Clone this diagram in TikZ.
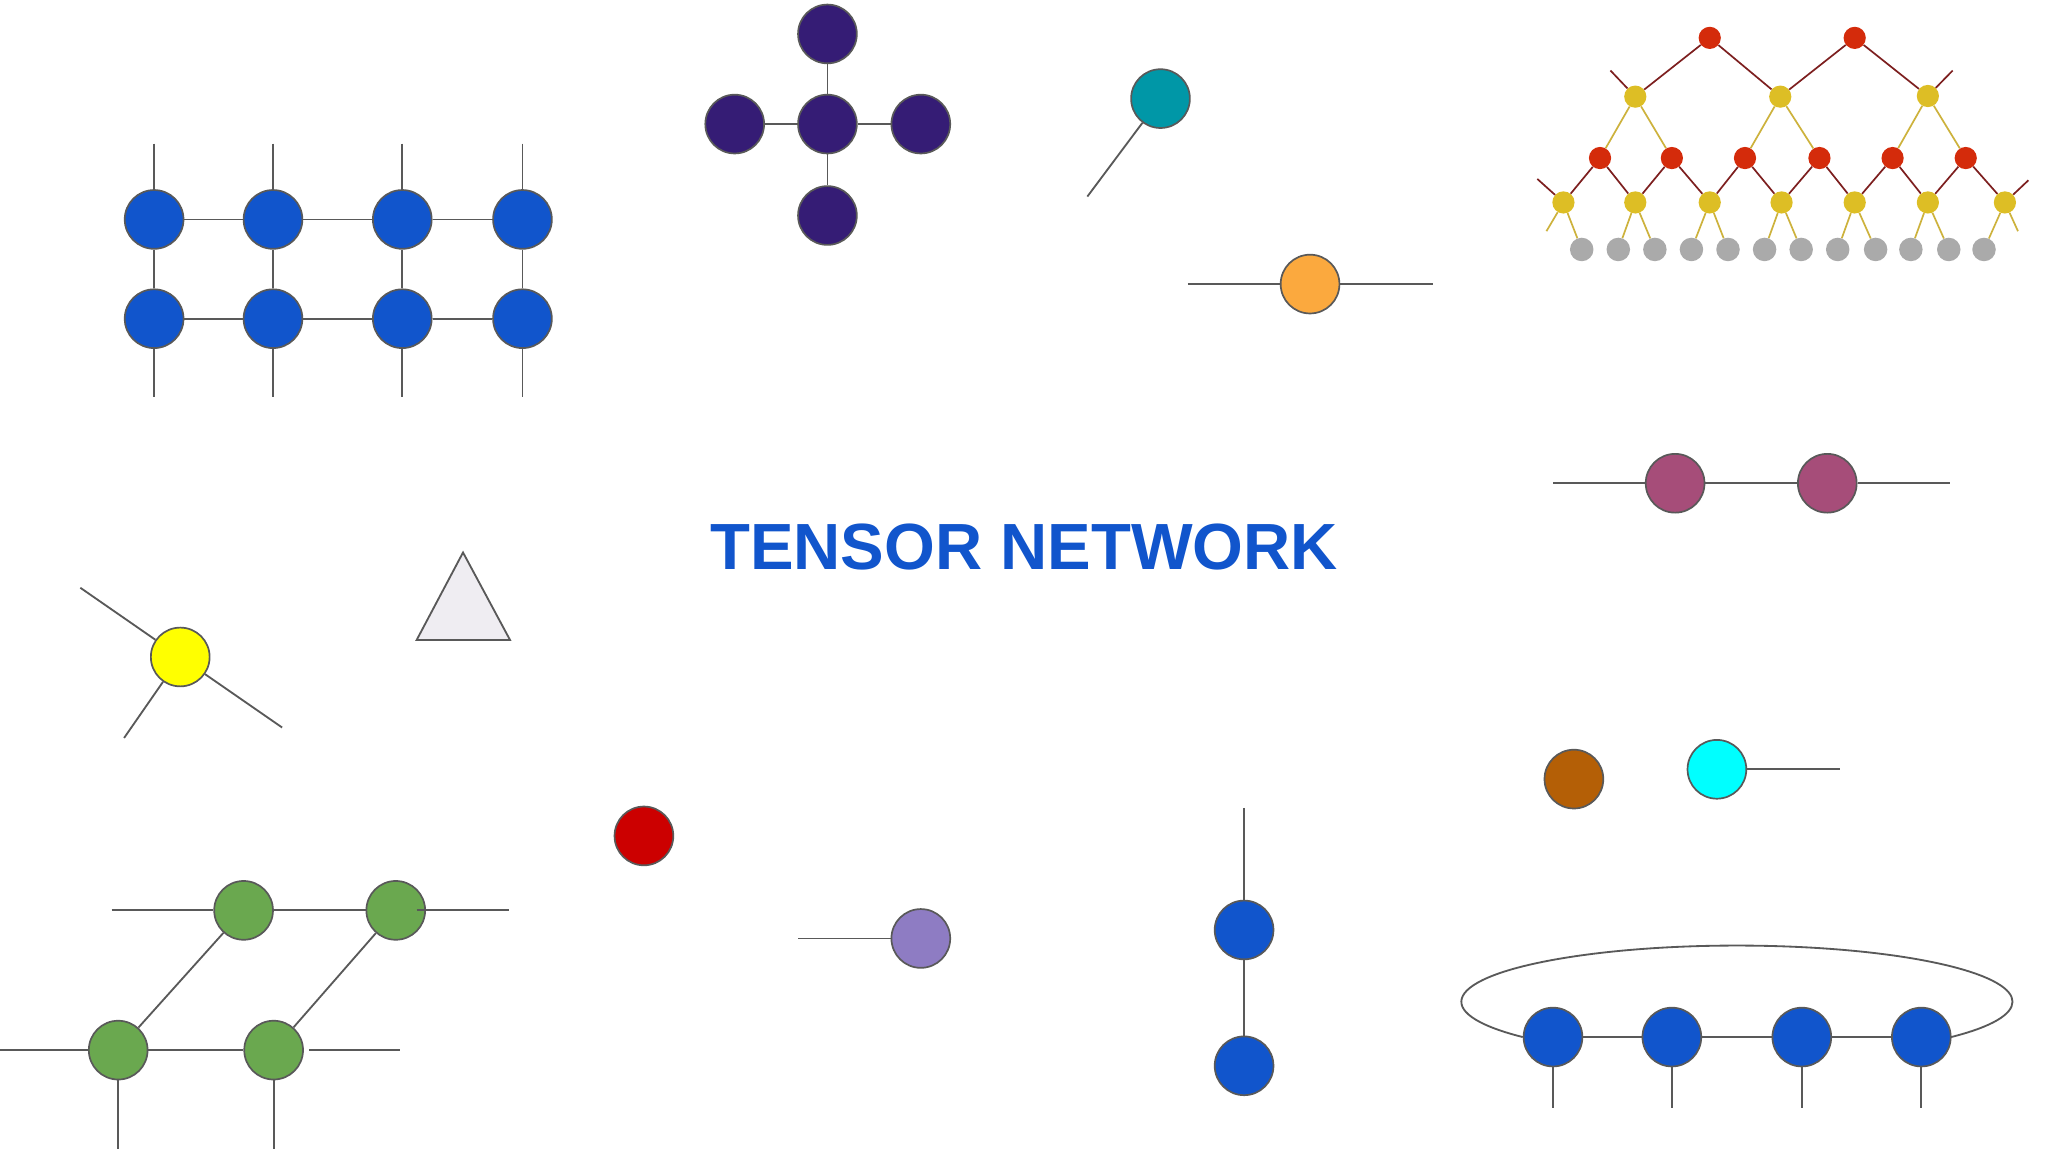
\documentclass[tikz,border=0pt]{standalone}
\usepackage{fontspec}
\newfontfamily\titlefont{Liberation Sans}
\usetikzlibrary{shapes.geometric}
\definecolor{wirec}{HTML}{595959}
\definecolor{cblue}{HTML}{1155CC}
\definecolor{cindigo}{HTML}{351C75}
\definecolor{cteal}{HTML}{0097A7}
\definecolor{corange}{HTML}{FBA93E}
\definecolor{cmagenta}{HTML}{A64D79}
\definecolor{cyellow}{HTML}{FFFF00}
\definecolor{trifill}{HTML}{EFEDF2}
\definecolor{cred}{HTML}{CC0000}
\definecolor{cgreen}{HTML}{6AA84F}
\definecolor{clavender}{HTML}{8E7CC3}
\definecolor{cbrown}{HTML}{B45F06}
\definecolor{ccyan}{HTML}{00FFFF}
\definecolor{trred}{HTML}{D42B0B}
\definecolor{tryel}{HTML}{DDBE25}
\definecolor{trgray}{HTML}{AAAAAA}
\definecolor{lnred}{HTML}{7D1F1F}
\definecolor{lnyel}{HTML}{CDB23C}
\tikzset{
  wire/.style={draw=wirec, line width=1.4pt},
  tn/.style={circle, draw=wirec, line width=1.3pt, minimum size=45pt, inner sep=0pt},
  tr/.style={circle, fill=trred, minimum size=17pt, inner sep=0pt},
  ty/.style={circle, fill=tryel, minimum size=17pt, inner sep=0pt},
  tg/.style={circle, fill=trgray, minimum size=18pt, inner sep=0pt},
  lred/.style={draw=lnred, line width=1.3pt},
  lyel/.style={draw=lnyel, line width=1.3pt},
}
\begin{document}
\begin{tikzpicture}[x=1pt,y=1pt]
\fill[white] (0,0) rectangle (1568,-882);
\useasboundingbox (0,0) rectangle (1568,-882);

% ---------- blue 4x2 grid ----------
\foreach \i/\x in {1/118,2/209,3/308,4/400} {
  \node[tn, fill=cblue] (a\i) at (\x,-168) {};
  \node[tn, fill=cblue] (b\i) at (\x,-244) {};
  \coordinate (at\i) at (\x,-110);
  \coordinate (bt\i) at (\x,-304);
  \draw[wire] (at\i) -- (a\i) -- (b\i) -- (bt\i);
}
\foreach \i/\j in {1/2,2/3,3/4} {
  \draw[wire] (a\i) -- (a\j);
  \draw[wire] (b\i) -- (b\j);
}

% ---------- indigo cross ----------
\node[tn, fill=cindigo] (cc) at (633.5,-95) {};
\node[tn, fill=cindigo] (cu) at (633.5,-26) {};
\node[tn, fill=cindigo] (cd) at (633.5,-165) {};
\node[tn, fill=cindigo] (cl) at (562.5,-95) {};
\node[tn, fill=cindigo] (cr) at (705,-95) {};
\draw[wire] (cc) -- (cu);
\draw[wire] (cc) -- (cd);
\draw[wire] (cc) -- (cl);
\draw[wire] (cc) -- (cr);

% ---------- teal ----------
\node[tn, fill=cteal] (teal) at (888.5,-75.5) {};
\coordinate (tealend) at (832.5,-150.5);
\draw[wire] (teal) -- (tealend);

% ---------- orange ----------
\node[tn, fill=corange] (orng) at (1003,-217.5) {};
\coordinate (oL) at (909.5,-217.5);
\coordinate (oR) at (1097,-217.5);
\draw[wire] (oL) -- (orng) -- (oR);

% ---------- tree (MERA) ----------
\node[tr] (r1) at (1309,-29) {};
\node[tr] (r2) at (1420,-29) {};
\node[ty] (y1) at (1252,-74) {};
\node[ty] (y2) at (1363,-74) {};
\node[ty] (y3) at (1476,-73.5) {};
\foreach \i/\x in {1/1225,2/1280,3/1336,4/1393,5/1449,6/1505}
  \node[tr] (q\i) at (\x,-121) {};
\foreach \i/\x in {1/1197,2/1252,3/1309,4/1364,5/1420,6/1476,7/1535}
  \node[ty] (z\i) at (\x,-155) {};
\foreach \i/\x in {1/1211,2/1239,3/1267,4/1295,5/1323,6/1351,7/1379,8/1407,9/1436,10/1463,11/1492,12/1519}
  \node[tg] (g\i) at (\x,-191) {};
\coordinate (s1) at (1233,-54);
\coordinate (s2) at (1495,-54);
\coordinate (s3) at (1177,-137);
\coordinate (s4) at (1553,-138);
\coordinate (s5) at (1184,-177);
\coordinate (s6) at (1545,-177);
\draw[lred] (r1) -- (y1);
\draw[lred] (r1) -- (y2);
\draw[lred] (r2) -- (y2);
\draw[lred] (r2) -- (y3);
\draw[lred] (y1) -- (s1);
\draw[lred] (y3) -- (s2);
\foreach \i/\j in {1/2,2/3,3/4,4/5,5/6,6/7} {
  \draw[lred] (q\i) -- (z\i);
  \draw[lred] (q\i) -- (z\j);
}
\draw[lred] (z1) -- (s3);
\draw[lred] (z7) -- (s4);
\draw[lyel] (y1) -- (q1);
\draw[lyel] (y1) -- (q2);
\draw[lyel] (y2) -- (q3);
\draw[lyel] (y2) -- (q4);
\draw[lyel] (y3) -- (q5);
\draw[lyel] (y3) -- (q6);
\draw[lyel] (z1) -- (s5);
\draw[lyel] (z1) -- (g1);
\draw[lyel] (z2) -- (g2);
\draw[lyel] (z2) -- (g3);
\draw[lyel] (z3) -- (g4);
\draw[lyel] (z3) -- (g5);
\draw[lyel] (z4) -- (g6);
\draw[lyel] (z4) -- (g7);
\draw[lyel] (z5) -- (g8);
\draw[lyel] (z5) -- (g9);
\draw[lyel] (z6) -- (g10);
\draw[lyel] (z6) -- (g11);
\draw[lyel] (z7) -- (g12);
\draw[lyel] (z7) -- (s6);

% ---------- magenta pair ----------
\node[tn, fill=cmagenta] (mg1) at (1282.5,-370) {};
\node[tn, fill=cmagenta] (mg2) at (1399,-370) {};
\coordinate (mgL) at (1189,-370);
\coordinate (mgR) at (1493,-370);
\draw[wire] (mgL) -- (mg1) -- (mg2) -- (mgR);

% ---------- title ----------
\node[text=cblue, inner sep=0pt, font={\titlefont\bfseries\fontsize{50}{60}\selectfont}] (title) at (784,-419) {TENSOR NETWORK};

% ---------- yellow three-leg node ----------
\node[tn, fill=cyellow] (yel) at (138,-503) {};
\coordinate (ye1) at (61.5,-450);
\coordinate (ye2) at (95,-565);
\coordinate (ye3) at (216,-557);
\draw[wire] (yel) -- (ye1);
\draw[wire] (yel) -- (ye2);
\draw[wire] (yel) -- (ye3);

% ---------- triangle ----------
\draw[wire, fill=trifill, line join=miter] (354.5,-423) -- (319,-490) -- (390.5,-490) -- cycle;

% ---------- red node ----------
\node[tn, fill=cred] (rednode) at (493,-640) {};

% ---------- green network ----------
\node[tn, fill=cgreen] (ga) at (186.5,-697) {};
\node[tn, fill=cgreen] (gb) at (303,-697) {};
\node[tn, fill=cgreen] (gc) at (90.5,-804) {};
\node[tn, fill=cgreen] (gd) at (209.5,-804) {};
\coordinate (gaL) at (85.5,-697);
\coordinate (gbR) at (390,-697);
\coordinate (gcL) at (0,-804);
\coordinate (gdR) at (306,-804);
\coordinate (gcB) at (90.5,-880);
\coordinate (gdB) at (209.5,-880);
\draw[wire] (gaL) -- (ga) -- (gb);
\draw[wire] ([xshift=16pt]gb.center) -- (gbR);
\draw[wire] (gcL) -- (gc) -- (gd);
\draw[wire] ([xshift=4pt]gd.east) -- (gdR);
\draw[wire] (ga) -- (gc);
\draw[wire] (gb) -- (gd);
\draw[wire] (gc) -- (gcB);
\draw[wire] (gd) -- (gdB);

% ---------- lavender ----------
\node[tn, fill=clavender] (lav) at (705,-718.5) {};
\coordinate (lavL) at (611,-718.5);
\draw[wire] (lavL) -- (lav);

% ---------- blue vertical chain ----------
\node[tn, fill=cblue] (v1) at (952.5,-712) {};
\node[tn, fill=cblue] (v2) at (952.5,-816) {};
\coordinate (vT) at (952.5,-618.5);
\draw[wire] (vT) -- (v1) -- (v2);

% ---------- brown & cyan ----------
\node[tn, fill=cbrown] (brown) at (1205,-596.5) {};
\node[tn, fill=ccyan] (cyan) at (1314.5,-589) {};
\coordinate (cyR) at (1408.5,-589);
\draw[wire] (cyan) -- (cyR);

% ---------- periodic MPS ring ----------
\foreach \i/\x in {1/1189,2/1280,3/1379.5,4/1471} {
  \node[tn, fill=cblue] (m\i) at (\x,-794) {};
  \coordinate (mb\i) at (\x,-848);
  \draw[wire] (m\i) -- (mb\i);
}
\draw[wire] (m1) -- (m2);
\draw[wire] (m2) -- (m3);
\draw[wire] (m3) -- (m4);
\draw[wire] (m1.west) arc[start angle=219, end angle=-39, x radius=211pt, y radius=43pt];
\end{tikzpicture}
\end{document}
